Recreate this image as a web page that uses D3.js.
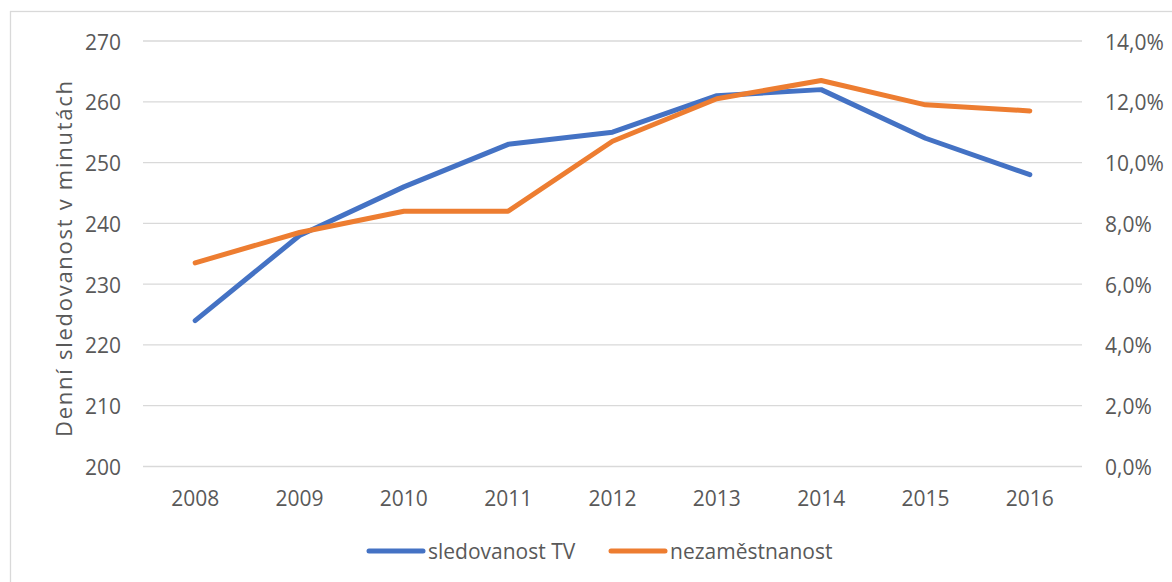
<!DOCTYPE html>
<html lang="cs">
<head>
    <meta charset="UTF-8">
    <title>Sledovanost TV a nezaměstnanost</title>
    <script src="https://cdn.jsdelivr.net/npm/d3@7"></script>
    <style>
        body { margin: 0; background: #fff; }
        text { font-family: "Open Sans", sans-serif; fill: #595959; }
    </style>
</head>
<body>
<script>
    const years = ['2008', '2009', '2010', '2011', '2012', '2013', '2014', '2015', '2016']
    const tvMinutes = [224, 238, 246, 253, 255, 261, 262, 254, 248]
    const unemployment = [0.067, 0.077, 0.084, 0.084, 0.107, 0.121, 0.127, 0.119, 0.117]
    const leftTicks = [200, 210, 220, 230, 240, 250, 260, 270]
    const rightTicks = [0, 0.02, 0.04, 0.06, 0.08, 0.10, 0.12, 0.14]
    const seriesNames = ['sledovanost TV', 'nezaměstnanost']
    const colors = ['#4472C4', '#ED7D31']

    const [width, height] = [1172, 582]
    const plot = {left: 143, right: 1082, top: 41, bottom: 466.5}

    const svg = d3.select('body').append('svg')
        .attr('width', width)
        .attr('height', height)

    // chart frame (only left/top visible in the picture)
    svg.append('rect')
        .attr('x', 10.5).attr('y', 11.5)
        .attr('width', 1200).attr('height', 600)
        .attr('fill', 'none')
        .attr('stroke', '#D9D9D9')
        .attr('stroke-width', 1.3)

    const x = d3.scaleBand().domain(years).range([plot.left, plot.right])
    const yL = d3.scaleLinear().domain([200, 270]).range([plot.bottom, plot.top])
    const yR = d3.scaleLinear().domain([0, 0.14]).range([plot.bottom, plot.top])

    const csLocale = d3.formatLocale({decimal: ',', thousands: ' ', grouping: [3], currency: ['', ' Kč']})
    const pct = csLocale.format('.1%')

    // gridlines
    svg.append('g')
        .selectAll('line')
        .data(leftTicks)
        .enter()
        .append('line')
        .attr('x1', plot.left).attr('x2', plot.right)
        .attr('y1', d => yL(d)).attr('y2', d => yL(d))
        .attr('stroke', '#D9D9D9')
        .attr('stroke-width', 1.3)

    const styleTicks = sel => sel.selectAll('text')
        .attr('dy', null)
        .attr('dominant-baseline', 'central')
        .style('font-size', '21px')
        .style('font-family', '"Open Sans", sans-serif')
        .attr('fill', '#595959')

    // left axis
    const axL = svg.append('g')
        .attr('transform', `translate(${plot.left - 22},0)`)
        .call(d3.axisLeft(yL).tickValues(leftTicks).tickSize(0).tickPadding(0))
    axL.select('.domain').remove()
    styleTicks(axL)

    // right axis
    const axR = svg.append('g')
        .attr('transform', `translate(${plot.right + 23},0)`)
        .call(d3.axisRight(yR).tickValues(rightTicks).tickFormat(pct).tickSize(0).tickPadding(0))
    axR.select('.domain').remove()
    styleTicks(axR)

    // x axis
    const axX = svg.append('g')
        .attr('transform', `translate(0,${plot.bottom + 31})`)
        .call(d3.axisBottom(x).tickSize(0).tickPadding(0))
    axX.select('.domain').remove()
    axX.selectAll('text').attr('y', 0)
    styleTicks(axX)

    // y axis title
    svg.append('text')
        .attr('transform', 'translate(63,259) rotate(-90)')
        .attr('text-anchor', 'middle')
        .attr('dominant-baseline', 'central')
        .attr('textLength', 356)
        .attr('lengthAdjust', 'spacing')
        .style('font-size', '22px')
        .text('Denní sledovanost v minutách')

    const cx = d => x(d) + x.bandwidth() / 2

    const lineL = d3.line().x((d, i) => cx(years[i])).y(d => yL(d))
    const lineR = d3.line().x((d, i) => cx(years[i])).y(d => yR(d))

    svg.append('path')
        .datum(tvMinutes)
        .attr('d', lineL)
        .attr('fill', 'none')
        .attr('stroke', colors[0])
        .attr('stroke-width', 5)
        .attr('stroke-linecap', 'round')
        .attr('stroke-linejoin', 'round')

    svg.append('path')
        .datum(unemployment)
        .attr('d', lineR)
        .attr('fill', 'none')
        .attr('stroke', colors[1])
        .attr('stroke-width', 5)
        .attr('stroke-linecap', 'round')
        .attr('stroke-linejoin', 'round')

    // legend
    const legendX = [369, 611]
    const legend = svg.append('g')
        .selectAll('g')
        .data(seriesNames)
        .enter()
        .append('g')
        .attr('transform', (d, i) => `translate(${legendX[i]},551)`)
    legend.append('line')
        .attr('x1', 0).attr('x2', 54)
        .attr('stroke', (d, i) => colors[i])
        .attr('stroke-width', 5)
        .attr('stroke-linecap', 'round')
    legend.append('text')
        .attr('x', 59)
        .attr('dominant-baseline', 'central')
        .style('font-size', '21px')
        .text(d => d)
</script>
</body>
</html>
